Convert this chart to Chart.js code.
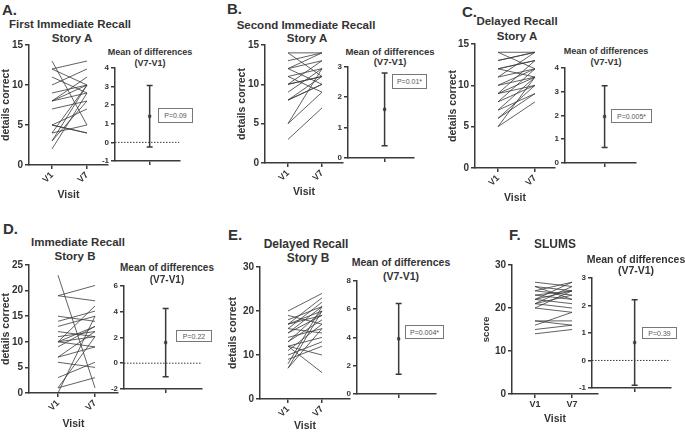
<!DOCTYPE html>
<html>
<head>
<meta charset="utf-8">
<script src="https://cdn.jsdelivr.net/npm/chart.js@4"></script>
<style>
body { margin: 0; background: #fff; width: 685px; height: 437px; position: relative; overflow: hidden;
       font-family: "Liberation Sans", Arial, sans-serif; color: #333; }
canvas { position: absolute; }
.t { position: absolute; font-weight: bold; white-space: nowrap; transform: translate(-50%, -50%); line-height: 1; }
.lbl { position: absolute; font-weight: bold; font-size: 15px; line-height: 1; }
.p { position: absolute; border: 1px solid #777; font-size: 7px; color: #555; box-sizing: border-box;
     display: flex; align-items: center; justify-content: center; }
</style>
</head>
<body>
<script>
// paired scores per subject, visit 1 and visit 7
const visitLabels = ['V1', 'V7'];

const aV1 = [13, 12, 12, 11, 10, 9, 8, 8, 8, 5, 5, 5, 4, 4, 3, 3, 2, 7];
const aV7 = [5, 10, 13, 9, 12, 10, 11, 10, 9, 4, 4, 7, 10, 5, 10, 8, 9, 8];

const bV1 = [14, 14, 13, 12, 12, 11, 11, 10, 10, 9, 8, 8, 8, 5, 5, 3, 10, 12];
const bV7 = [14, 11, 14, 14, 10, 12, 9, 13, 11, 12, 10, 10, 11, 9, 12, 7, 11, 13];

const cV1 = [14, 14, 13, 13, 12, 12, 11, 10, 10, 9, 9, 9, 8, 8, 7, 7, 6, 6, 5, 5, 11, 12];
const cV7 = [14, 12, 14, 14, 11, 13, 12, 12, 11, 10, 13, 11, 12, 10, 11, 9, 9, 10, 8, 11, 14, 13];

const dV1 = [23, 19, 19, 15, 14, 13, 12, 11, 10, 10, 10, 10, 9, 7, 6, 3, 1, 1, 0, 7];
const dV7 = [1, 21, 18, 14, 16, 15, 11, 12, 11, 9, 13, 17, 13, 12, 5, 6, 3, 11, 15, 9];

const eV1 = [20, 19, 18, 17, 17, 17, 16, 16, 15, 14, 13, 12, 12, 12, 11, 10, 9, 8, 7, 7, 13, 15];
const eV7 = [24, 17, 21, 23, 19, 20, 15, 22, 21, 16, 20, 6, 10, 14, 17, 13, 12, 21, 16, 20, 18, 19];

const fV1 = [26, 25, 24, 23, 22, 22, 21, 21, 20, 17, 17, 16, 15, 14, 25, 23, 22, 20, 24, 21];
const fV7 = [25, 22, 26, 24, 24, 21, 23, 25, 19, 17, 16, 19, 16, 15, 24, 22, 26, 24, 23, 20];

// mean of differences (V7-V1) with 95% CI
const diffMean = [1.4, 1.6, 1.95, 1.6, 3.9, 0.65];
const diffLow = [-0.25, 0.4, 0.65, -1.05, 1.4, -0.9];
const diffHigh = [3.05, 2.8, 3.25, 4.25, 6.4, 2.2];
const pLabels = ['P=0.09', 'P=0.01*', 'P=0.005*', 'P=0.22', 'P=0.004*', 'P=0.39'];

const letters = ['A.', 'B.', 'C.', 'D.', 'E.', 'F.'];
const titles = [['First Immediate Recall', 'Story A'], ['Second Immediate Recall', 'Story A'],
                ['Delayed Recall', 'Story A'], ['Immediate Recall', 'Story B'],
                ['Delayed Recall', 'Story B'], ['SLUMS']];
const yTitles = ['details correct', 'details correct', 'details correct', 'details correct', 'details correct', 'score'];

const leftMax = [15, 15, 15, 25, 30, 30];
const leftStep = [5, 5, 5, 5, 10, 10];
const rightMin = [-1, 0, 0, -2, 0, -1];
const rightMax = [4, 3, 4, 6, 8, 3];
const rightStep = [1, 1, 1, 2, 2, 1];

const series = [[aV1, aV7], [bV1, bV7], [cV1, cV7], [dV1, dV7], [eV1, eV7], [fV1, fV7]];

// page layout (pixels)
const layout = [
  { letter: [2, 2], t1: [70, 25, 11.5], t2: [72, 39], L: { cl: 0, ax: 29, top: 44, bot: 165, xe: 108, v1: 52, v7: 87, vy: 195 },
    R: { ax: 115, top: 67, bot: 161, xe: 182, tx: 151 }, m: [150, 52, 63, 9], p: [158, 108, 35, 15] },
  { letter: [227, 1], t1: [306, 26, 11.5], t2: [307, 39], L: { cl: 236, ax: 265, top: 44, bot: 163, xe: 343, v1: 288, v7: 322, vy: 192 },
    R: { ax: 348, top: 66, bot: 158, xe: 416, tx: 386 }, m: [390, 52, 62, 9.5], p: [392, 74, 35, 15] },
  { letter: [462, 4], t1: [517, 22, 11.5], t2: [517, 37], L: { cl: 447, ax: 475, top: 43, bot: 168, xe: 555, v1: 498, v7: 535, vy: 198 },
    R: { ax: 565, top: 67, bot: 163, xe: 638, tx: 606 }, m: [606, 51, 62, 9], p: [611, 109, 41, 14] },
  { letter: [3, 221], t1: [78, 243, 11.5], t2: [75, 257], L: { cl: 0, ax: 29, top: 264, bot: 393, xe: 118, v1: 58, v7: 95, vy: 424 },
    R: { ax: 124, top: 285, bot: 389, xe: 204, tx: 167 }, m: [167, 268, 280, 10], p: [176, 330, 36, 12] },
  { letter: [228, 227], t1: [306, 244, 12], t2: [308, 258], L: { cl: 227, ax: 260, top: 266, bot: 399, xe: 350, v1: 288, v7: 322, vy: 426 },
    R: { ax: 357, top: 280, bot: 394, xe: 438, tx: 400 }, m: [401, 262, 276, 10.5], p: [405, 325, 39, 14] },
  { letter: [509, 227], t1: [555, 244, 12], t2: null, L: { cl: 481, ax: 512, top: 264, bot: 394, xe: 598, v1: 535, v7: 572, vy: 419 },
    R: { ax: 592, top: 277, bot: 388, xe: 673, tx: 636 }, m: [636, 259, 270, 10.5], p: [642, 327, 35, 12] }
];

Chart.defaults.font.family = '"Liberation Sans", Arial, sans-serif';
Chart.defaults.color = '#333';

const ink = '#3a3a3a';

function addText(cls, text, x, y, size) {
  const d = document.createElement('div');
  d.className = cls;
  d.textContent = text;
  d.style.left = x + 'px';
  d.style.top = y + 'px';
  if (size) d.style.fontSize = size + 'px';
  document.body.appendChild(d);
  return d;
}

function makeCanvas(left, top, w, h) {
  const c = document.createElement('canvas');
  c.width = w;
  c.height = h;
  c.style.left = left + 'px';
  c.style.top = top + 'px';
  c.style.width = w + 'px';
  c.style.height = h + 'px';
  document.body.appendChild(c);
  return c;
}

function axisStyle() {
  return {
    grid: { drawOnChartArea: false, drawTicks: true, tickLength: 4, color: ink, lineWidth: 1.5 },
    border: { display: true, color: ink, width: 1.5 }
  };
}

function drawPaired(i) {
  const g = layout[i].L;
  const [v1, v7] = series[i];
  const spacing = g.v7 - g.v1;
  const padTop = 7, padRight = 3;
  const yW = g.ax - g.cl;
  const xH = g.vy + 6 - g.bot;
  const canvas = makeCanvas(g.cl, g.top - padTop, g.xe - g.cl + padRight, g.vy + 6 - g.top + padTop);
  const rotate = i === 5 ? 0 : 45;

  new Chart(canvas, {
    type: 'line',
    data: {
      datasets: v1.map((a, k) => ({
        data: [{ x: 0, y: a }, { x: 1, y: v7[k] }],
        borderColor: ink,
        borderWidth: 0.8,
        pointRadius: 0
      }))
    },
    options: {
      responsive: false,
      animation: false,
      layout: { padding: { top: padTop, right: padRight, left: 0, bottom: 0 } },
      plugins: { legend: { display: false }, tooltip: { enabled: false } },
      scales: {
        x: {
          type: 'linear',
          min: (g.ax - g.v1) / spacing,
          max: (g.xe - g.v1) / spacing,
          ...axisStyle(),
          afterBuildTicks: s => { s.ticks = [{ value: 0 }, { value: 1 }]; },
          afterFit: s => { s.height = xH; },
          ticks: {
            autoSkip: false, minRotation: rotate, maxRotation: rotate, padding: 1,
            font: { size: 9, weight: 'bold' },
            callback: (v, idx) => visitLabels[idx]
          },
          title: { display: true, text: 'Visit', padding: 0, font: { size: 10.5, weight: 'bold' } }
        },
        y: {
          min: 0, max: leftMax[i],
          ...axisStyle(),
          afterFit: s => { s.width = yW; },
          ticks: { stepSize: leftStep[i], padding: 2, font: { size: 10, weight: 'bold' } },
          title: { display: true, text: yTitles[i], padding: 0, font: { size: i === 5 ? 9.5 : 10.5, weight: 'bold' } }
        }
      }
    }
  });
}

function drawDiff(i) {
  const g = layout[i].R;
  const xmin = -1;
  const xmax = (g.xe - g.tx) / (g.tx - g.ax);
  const yW = 18, xH = 8, padTop = 6, padRight = 3;
  const canvas = makeCanvas(g.ax - yW, g.top - padTop, g.xe - g.ax + yW + padRight, g.bot + xH - g.top + padTop);

  const datasets = [];
  if (rightMin[i] < 0) {
    datasets.push({
      data: [{ x: xmin, y: 0 }, { x: xmax, y: 0 }],
      borderColor: ink, borderWidth: 1, borderDash: [1.5, 1.5], pointRadius: 0
    });
  }
  datasets.push({
    data: [{ x: 0, y: diffLow[i] }, { x: 0, y: diffHigh[i] }],
    borderColor: ink, borderWidth: 1.5,
    pointStyle: 'line', pointRadius: 3, pointBorderWidth: 1.5, pointBorderColor: ink
  });
  datasets.push({
    data: [{ x: 0, y: diffMean[i] }],
    showLine: false, pointStyle: 'rect', pointRadius: 1.8,
    pointBackgroundColor: ink, pointBorderColor: ink, pointBorderWidth: 0.5
  });

  new Chart(canvas, {
    type: 'line',
    data: { datasets },
    options: {
      responsive: false,
      animation: false,
      layout: { padding: { top: padTop, right: padRight, left: 0, bottom: 0 } },
      plugins: { legend: { display: false }, tooltip: { enabled: false } },
      scales: {
        x: {
          type: 'linear', min: xmin, max: xmax,
          ...axisStyle(),
          afterBuildTicks: s => { s.ticks = [{ value: 0 }]; },
          afterFit: s => { s.height = xH; },
          ticks: { display: false }
        },
        y: {
          min: rightMin[i], max: rightMax[i],
          ...axisStyle(),
          afterFit: s => { s.width = yW; },
          ticks: { stepSize: rightStep[i], padding: 2, font: { size: 8, weight: 'bold' } }
        }
      }
    }
  });
}

layout.forEach((g, i) => {
  const l = addText('lbl', letters[i], g.letter[0], g.letter[1]);
  addText('t', titles[i][0], g.t1[0], g.t1[1], g.t1[2]);
  if (g.t2) addText('t', titles[i][1], g.t2[0], g.t2[1], g.t1[2]);
  addText('t', 'Mean of differences', g.m[0], g.m[1], g.m[3]);
  addText('t', '(V7-V1)', g.m[0], g.m[2], g.m[3]);
  const p = addText('p', pLabels[i], g.p[0], g.p[1]);
  p.style.width = g.p[2] + 'px';
  p.style.height = g.p[3] + 'px';
  drawPaired(i);
  drawDiff(i);
});
</script>
</body>
</html>
